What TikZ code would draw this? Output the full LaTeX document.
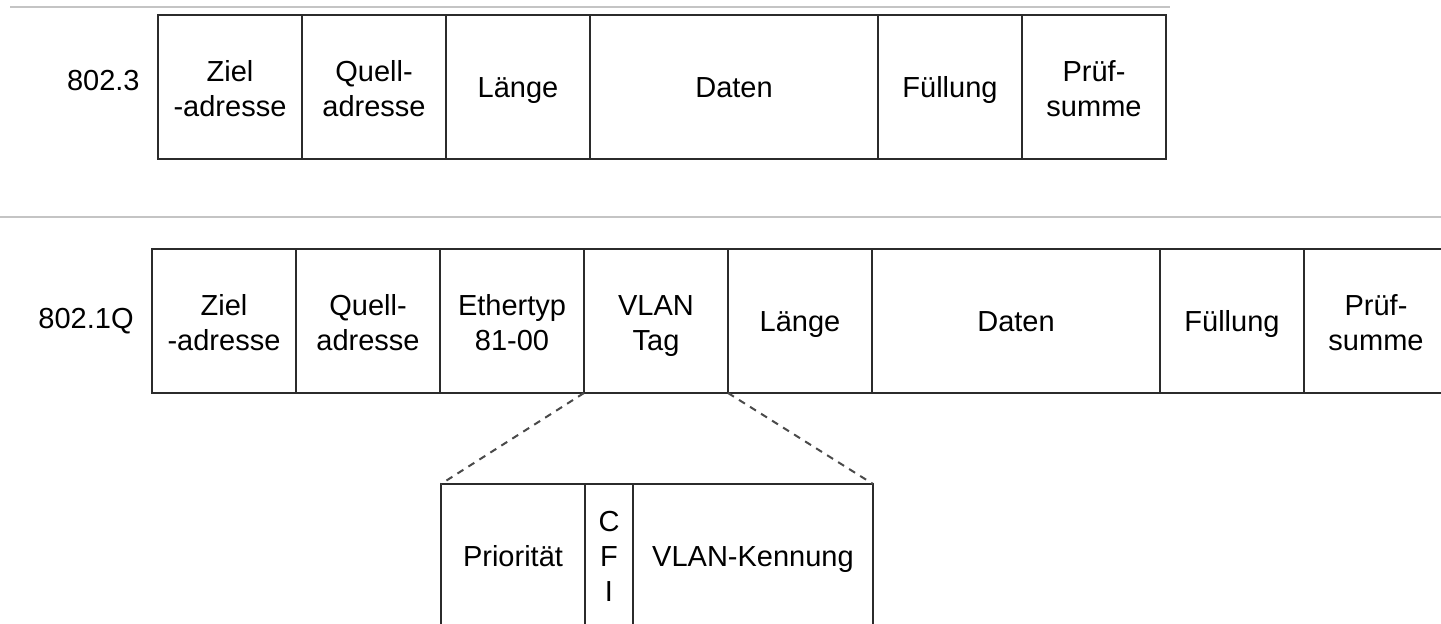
\documentclass[tikz,border=0pt]{standalone}
\usepackage{fontspec}
\setmainfont{Liberation Sans}
\usepackage{tikz}
\usetikzlibrary{positioning}
\definecolor{frameInk}{HTML}{2B2B2B}
\definecolor{ruleGrey}{HTML}{C4C4C4}
\definecolor{dashGrey}{HTML}{4A4A4A}
\tikzset{
  field/.style  = {draw=frameInk, line width=1pt, align=center, inner sep=0pt,
                   outer sep=0pt, minimum height=72pt,
                   font=\fontsize{14.5}{17.5}\selectfont,
                   text height=16.25pt, text depth=5.25pt},
  two/.style    = {text height=34.75pt, text depth=5.25pt},
  three/.style  = {text height=51.25pt, text depth=5.25pt},
  unit/.style   = {field, minimum width=72pt},
  wide/.style   = {field, minimum width=144pt},
  rowlbl/.style = {font=\fontsize{14.5}{17.5}\selectfont, inner sep=0pt},
  sep/.style    = {draw=ruleGrey, line width=0.75pt},
  zoomln/.style = {draw=dashGrey, line width=1pt, dash pattern=on 3.5pt off 3pt}
}

\begin{document}
\begin{tikzpicture}[x=0.5pt, y=-0.5pt, node distance=0pt]
  \useasboundingbox (0,0) rectangle (1441,624);
  \clip (0,0) rectangle (1441,624);
  % rules
  \draw[sep] (10,7) -- (1170,7);
  \draw[sep] (0,217) -- (1441,217);
  % 802.3 frame
  \node[unit, two] (zielA) at (230,87) {Ziel\\-adresse};
  \node[unit, two, right=of zielA] (quellA) {Quell-\\adresse};
  \node[unit, right=of quellA] (laengeA) {Länge};
  \node[wide, right=of laengeA] (datenA) {Daten};
  \node[unit, right=of datenA] (fuellA) {Füllung};
  \node[unit, two, right=of fuellA] (pruefA) {Prüf-\\summe};
  \node[rowlbl, left=9pt of zielA, yshift=3pt] (lblA) {802.3};
  % 802.1Q frame
  \node[unit, two] (zielB) at (224,321) {Ziel\\-adresse};
  \node[unit, two, right=of zielB] (quellB) {Quell-\\adresse};
  \node[unit, two, right=of quellB] (ethB) {Ethertyp\\81-00};
  \node[unit, two, right=of ethB] (vtag) {VLAN\\Tag};
  \node[unit, right=of vtag] (laengeB) {Länge};
  \node[wide, right=of laengeB] (datenB) {Daten};
  \node[unit, right=of datenB] (fuellB) {Füllung};
  \node[unit, two, right=of fuellB] (pruefB) {Prüf-\\summe};
  \node[rowlbl, left=9pt of zielB] (lblB) {802.1Q};
  % tag detail
  \node[unit] (prio) at (513,556) {Priorität};
  \node[field, three, minimum width=24pt, right=of prio] (cfi) {C\\F\\I};
  \node[field, minimum width=120pt, right=of cfi] (vkenn) {VLAN-Kennung};
  \draw[zoomln] (vtag.south west) -- (prio.north west);
  \draw[zoomln] (vtag.south east) -- (vkenn.north east);
\end{tikzpicture}
\end{document}
